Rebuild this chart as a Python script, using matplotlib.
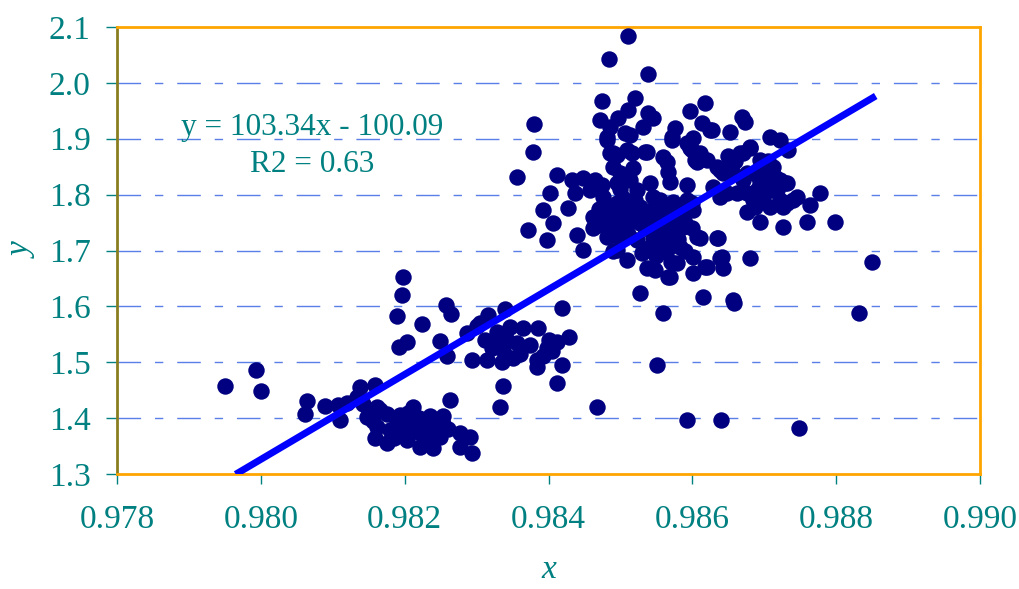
import matplotlib
matplotlib.use("Agg")
import matplotlib.pyplot as plt
import numpy as np

# ---------------- data ----------------
low_x = [0.97950, 0.97993, 0.98000, 0.98064, 0.98061, 0.98089, 0.98107, 0.98110, 0.98120, 0.98138,
         0.98159, 0.98134, 0.98142, 0.98148, 0.98162, 0.98166, 0.98175, 0.98162, 0.98159, 0.98175,
         0.98180, 0.98194, 0.98198, 0.98203, 0.98212, 0.98217, 0.98221, 0.98221, 0.98235, 0.98239,
         0.98239, 0.98249, 0.98253, 0.98263, 0.98253, 0.98277, 0.98291, 0.98277, 0.98294, 0.98190,
         0.98200, 0.98205, 0.98230, 0.98228, 0.98240, 0.98260, 0.98185, 0.98210, 0.98220, 0.98156]
low_y = [1.457, 1.486, 1.449, 1.431, 1.407, 1.422, 1.424, 1.397, 1.427, 1.456,
         1.459, 1.438, 1.425, 1.402, 1.420, 1.414, 1.408, 1.384, 1.364, 1.355,
         1.378, 1.406, 1.384, 1.360, 1.420, 1.397, 1.373, 1.348, 1.403, 1.376,
         1.347, 1.366, 1.390, 1.432, 1.403, 1.373, 1.366, 1.348, 1.337, 1.392,
         1.372, 1.410, 1.385, 1.360, 1.395, 1.380, 1.365, 1.385, 1.400, 1.395]

mid_x = [0.98198, 0.98196, 0.98189, 0.98192, 0.98203, 0.98257, 0.98264, 0.98224, 0.98249, 0.98259,
         0.98287, 0.98294, 0.98305, 0.98316, 0.98339, 0.98301, 0.98328, 0.98346, 0.98312, 0.98328,
         0.98342, 0.98356, 0.98314, 0.98335, 0.98351, 0.98365, 0.98385, 0.98374, 0.98384, 0.98384,
         0.98398, 0.98412, 0.98428, 0.98419, 0.98337, 0.98337, 0.98333, 0.98412, 0.98419, 0.98321,
         0.98360, 0.98392, 0.98405, 0.98400, 0.98342]
mid_y = [1.652, 1.620, 1.583, 1.527, 1.536, 1.602, 1.586, 1.568, 1.538, 1.511,
         1.552, 1.504, 1.570, 1.585, 1.595, 1.565, 1.554, 1.563, 1.540, 1.534,
         1.540, 1.534, 1.504, 1.500, 1.507, 1.561, 1.561, 1.531, 1.504, 1.492,
         1.525, 1.536, 1.545, 1.495, 1.522, 1.457, 1.420, 1.463, 1.597, 1.525,
         1.515, 1.512, 1.520, 1.540, 1.510]

up_x = [0.98356, 0.98380, 0.98378, 0.98392, 0.98371, 0.98398, 0.98406, 0.98402, 0.98412, 0.98427,
        0.98433, 0.98448, 0.98465, 0.98474, 0.98437, 0.98458, 0.98476, 0.98440, 0.98448, 0.98462,
        0.98462, 0.98481, 0.98481, 0.98495, 0.98502, 0.98510, 0.98495, 0.98509, 0.98537, 0.98548,
        0.98569, 0.98579, 0.98601, 0.98601, 0.98618, 0.98641, 0.98643, 0.98636, 0.98680, 0.98606,
        0.98587, 0.98527, 0.98523, 0.98541, 0.98555, 0.98565, 0.98583, 0.98573, 0.98527, 0.98545,
        0.98559, 0.98573, 0.98583, 0.98541, 0.98523, 0.98504, 0.98513, 0.98517, 0.98495, 0.98499,
        0.98490, 0.98495, 0.98565, 0.98566, 0.98569, 0.98593, 0.98534, 0.98600, 0.98606, 0.98620,
        0.98634, 0.98643, 0.98666, 0.98680, 0.98694, 0.98712, 0.98708, 0.98722, 0.98732, 0.98718,
        0.98722, 0.98708, 0.98726, 0.98740, 0.98745, 0.98777, 0.98764, 0.98759, 0.98798, 0.98726,
        0.98694, 0.98676, 0.98684, 0.98690, 0.98694, 0.98676, 0.98657, 0.98638, 0.98648, 0.98638,
        0.98662, 0.98676, 0.98629, 0.98593, 0.98601, 0.98587, 0.98634, 0.98638, 0.98850, 0.98527,
        0.98615, 0.98657, 0.98593, 0.98572, 0.98481, 0.98485, 0.98618, 0.98669, 0.98673, 0.98613,
        0.98627, 0.98652, 0.98708, 0.98722, 0.98733, 0.98680, 0.98670, 0.98655, 0.98691, 0.98715,
        0.98729, 0.98711, 0.98698, 0.98670, 0.98687, 0.98732, 0.98510, 0.98484, 0.98538, 0.98520,
        0.98474, 0.98510, 0.98538, 0.98545, 0.98597, 0.98497, 0.98485, 0.98472, 0.98531, 0.98576,
        0.98506, 0.98481, 0.98513, 0.98572, 0.98624, 0.98601, 0.98597, 0.98611, 0.98537, 0.98490,
        0.98509, 0.98559, 0.98516, 0.98604, 0.98600, 0.98566, 0.98559, 0.98551, 0.98467, 0.98593,
        0.98640, 0.98748, 0.98832, 0.98658, 0.98611, 0.98620, 0.98520, 0.98534, 0.98548, 0.98562,
        0.98576, 0.98545, 0.98559, 0.98530, 0.98510, 0.98495, 0.98580, 0.98555, 0.98540, 0.98566,
        0.98590, 0.98600, 0.98520, 0.98500, 0.98480, 0.98470,
        0.98490, 0.98505, 0.98515, 0.98530, 0.98545, 0.98560, 0.98575, 0.98580, 0.98560, 0.98550,
        0.98570, 0.98590, 0.98500, 0.98490, 0.98470, 0.98700, 0.98690, 0.98705, 0.98660, 0.98650,
        0.98470, 0.98490]
up_y = [1.832, 1.926, 1.876, 1.772, 1.737, 1.719, 1.749, 1.803, 1.835, 1.776,
        1.826, 1.830, 1.826, 1.817, 1.803, 1.808, 1.796, 1.728, 1.701, 1.740,
        1.760, 1.755, 1.724, 1.785, 1.769, 1.749, 1.701, 1.683, 1.669, 1.665,
        1.653, 1.678, 1.660, 1.688, 1.670, 1.688, 1.669, 1.722, 1.686, 1.724,
        1.742, 1.749, 1.719, 1.706, 1.731, 1.701, 1.706, 1.724, 1.778, 1.796,
        1.778, 1.787, 1.760, 1.821, 1.808, 1.794, 1.826, 1.848, 1.871, 1.839,
        1.849, 1.821, 1.858, 1.840, 1.823, 1.817, 1.876, 1.880, 1.858, 1.862,
        1.849, 1.839, 1.874, 1.885, 1.862, 1.849, 1.832, 1.826, 1.821, 1.808,
        1.790, 1.778, 1.778, 1.790, 1.796, 1.803, 1.781, 1.751, 1.751, 1.742,
        1.751, 1.769, 1.790, 1.808, 1.821, 1.839, 1.839, 1.844, 1.803, 1.796,
        1.803, 1.803, 1.814, 1.790, 1.772, 1.760, 1.722, 1.687, 1.679, 1.624,
        1.617, 1.611, 1.892, 1.898, 1.898, 1.874, 1.964, 1.939, 1.930, 1.928,
        1.916, 1.912, 1.903, 1.898, 1.880, 1.883, 1.874, 1.857, 1.844, 1.832,
        1.821, 1.808, 1.796, 1.826, 1.778, 1.785, 2.084, 2.043, 2.016, 1.973,
        1.968, 1.951, 1.946, 1.937, 1.950, 1.937, 1.921, 1.934, 1.921, 1.919,
        1.910, 1.903, 1.907, 1.903, 1.916, 1.901, 1.883, 1.874, 1.876, 1.874,
        1.880, 1.867, 1.874, 1.862, 1.785, 1.653, 1.588, 1.495, 1.420, 1.397,
        1.397, 1.383, 1.588, 1.606, 1.722, 1.670, 1.760, 1.740, 1.755, 1.745,
        1.735, 1.725, 1.712, 1.695, 1.730, 1.745, 1.772, 1.790, 1.770, 1.765,
        1.750, 1.740, 1.790, 1.810, 1.780, 1.775,
        1.760, 1.750, 1.770, 1.760, 1.745, 1.760, 1.750, 1.720, 1.700, 1.690,
        1.680, 1.700, 1.720, 1.700, 1.745, 1.820, 1.835, 1.860, 1.860, 1.870,
        1.760, 1.740]

# trend line as drawn in the reference
trend_x = [0.97965, 0.98855]
trend_y = [1.2995, 1.9765]

eq_text = "y = 103.34x - 100.09"
r2_text = "R2 = 0.63"

x_ticks = [0.978, 0.980, 0.982, 0.984, 0.986, 0.988, 0.990]
y_ticks = [1.3, 1.4, 1.5, 1.6, 1.7, 1.8, 1.9, 2.0, 2.1]

# ---------------- style ----------------
TEAL = "#008080"
ORANGE = "#FFA500"
NAVY = "#000080"
GRID = "#5a7fe6"

plt.rcParams["font.family"] = ["Liberation Serif", "DejaVu Serif"]

fig = plt.figure(figsize=(10.19, 5.89), dpi=100)
ax = fig.add_axes([117/1019, 1 - 474/589, (980-117)/1019, (474-27)/589])

all_x = low_x + mid_x + up_x
all_y = low_y + mid_y + up_y
ax.scatter(all_x, all_y, s=140, color=NAVY, linewidths=0, zorder=3)
ax.plot(trend_x, trend_y, color="#0000FF", lw=5, solid_capstyle="butt", zorder=4)

ax.set_xlim(0.978, 0.990)
ax.set_ylim(1.3, 2.1)
ax.set_xticks(x_ticks)
ax.set_yticks(y_ticks)
ax.set_xticklabels([f"{v:.3f}" for v in x_ticks])
ax.set_yticklabels([f"{v:.1f}" for v in y_ticks])

for v in y_ticks[1:-1]:
    ax.axhline(v, color=GRID, lw=1.0, dashes=(17, 10, 6, 10), zorder=1)

ax.tick_params(axis="both", direction="out", colors=TEAL, labelsize=24, width=1.0)
ax.tick_params(axis="y", length=8, pad=11)
ax.tick_params(axis="x", length=7, pad=15)

for side in ["top", "right", "bottom"]:
    ax.spines[side].set_color(ORANGE)
    ax.spines[side].set_linewidth(2)
ax.spines["left"].set_color("#8a7d20")
ax.spines["left"].set_linewidth(2)

ax.set_xlabel("x", fontsize=24, style="italic", color=TEAL, labelpad=14)
ax.set_ylabel("y", fontsize=24, style="italic", color=TEAL, labelpad=8)

ax.text(0.98071, 1.907, eq_text, fontsize=22.5, color=TEAL, ha="center", va="baseline", zorder=5)
ax.text(0.98071, 1.840, r2_text, fontsize=22.5, color=TEAL, ha="center", va="baseline", zorder=5)

fig.savefig("out.png", dpi=100)
